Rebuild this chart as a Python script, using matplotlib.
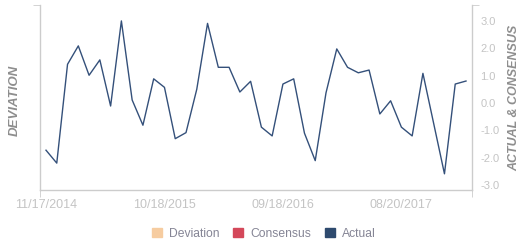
import numpy as np
import matplotlib.pyplot as plt
from matplotlib.patches import Patch

plt.rcParams['font.family'] = ['Liberation Sans', 'DejaVu Sans']

# Valores (serie mensual "Actual")
actual = [-1.72, -2.19, 1.41, 2.08, 1.01, 1.57, -0.11, 2.99, 0.11, -0.81,
          0.88, 0.57, -1.30, -1.08, 0.50, 2.90, 1.30, 1.30, 0.40, 0.79,
          -0.88, -1.20, 0.69, 0.88, -1.10, -2.10, 0.37, 1.97, 1.30, 1.10,
          1.20, -0.40, 0.08, -0.88, -1.20, 1.08, -0.75, -2.58, 0.69, 0.80]
etiquetas_x = ['11/17/2014', '10/18/2015', '09/18/2016', '08/20/2017']
cada = 11  # una etiqueta cada 11 puntos
ticks_y = [-3.0, -2.0, -1.0, 0.0, 1.0, 2.0, 3.0]

gris_eje = '#cccccc'
gris_txt = '#c4c4c4'

fig = plt.figure(figsize=(5.31, 2.5), dpi=100)
ax = fig.add_axes([40/531, 1 - 190/250, 432/531, 185/250])

x = np.arange(len(actual))
ax.plot(x, actual, color='#34507a', lw=1.0)

ax.set_xlim(-0.557, len(actual) - 1 + 0.557)
ax.set_ylim(-3.17, 3.57)

for s in ['left', 'right', 'bottom']:
    ax.spines[s].set_color(gris_eje)
    ax.spines[s].set_linewidth(1.0)
ax.spines['top'].set_visible(False)

# eje x
ax.set_xticks(x[::cada][:len(etiquetas_x)])
ax.set_xticklabels(etiquetas_x)
ax.tick_params(axis='x', length=0, pad=6.5, labelsize=9, labelcolor=gris_txt)
ax.set_xticks(list(ax.get_xlim()), minor=True)
ax.tick_params(axis='x', which='minor', length=5, color=gris_eje, direction='out')

# eje y (etiquetas a la derecha)
ax.yaxis.tick_right()
ax.set_yticks(ticks_y)
ax.set_yticklabels(['%.1f' % v for v in ticks_y])
ax.tick_params(axis='y', length=0, pad=6, labelsize=8, labelcolor=gris_txt,
               left=False, right=True)
ax.set_yticks([ax.get_ylim()[1]], minor=True)
ax.tick_params(axis='y', which='minor', length=5, color=gris_eje,
               left=True, right=True, direction='out')

fig.text(14.7/531, 1 - 100/250, 'DEVIATION', rotation=90, ha='center', va='center',
         fontsize=9.5, style='italic', weight='bold', color='#8e8e8e')
fig.text(514.7/531, 1 - 97.5/250, 'ACTUAL & CONSENSUS', rotation=90, ha='center',
         va='center', fontsize=9, style='italic', weight='bold', color='#8e8e8e')

handles = [Patch(color='#f6cca0', label='Deviation'),
           Patch(color='#d4485a', label='Consensus'),
           Patch(color='#2e4a6e', label='Actual')]
leg = fig.legend(handles=handles, loc='center', bbox_to_anchor=(264/531, 1 - 234/250),
                 ncol=3, frameon=False, fontsize=8.7, handlelength=0.8,
                 handleheight=0.8, handletextpad=0.6, columnspacing=1.15)
for t in leg.get_texts():
    t.set_color('#858595')

fig.savefig('out.png', dpi=100)
